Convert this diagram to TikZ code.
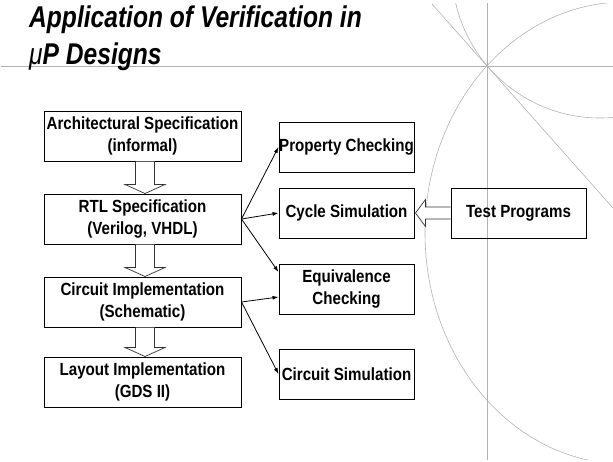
\documentclass[tikz,border=0pt]{standalone}
\usepackage{fontspec}
\setmainfont{Liberation Sans}
\newfontfamily\titlefont{Liberation Sans}[FakeStretch=0.82]
\newfontfamily\boxfont{Liberation Sans}[FakeStretch=0.86]
\usetikzlibrary{positioning,calc,arrows.meta}

% hollow block arrow pointing down from one box to the next
\newcommand{\hollowdown}[2]{%
  \draw[hollow] ([xshift=-7pt]#1.south) -- ([xshift=-7pt,yshift=9pt]#2.north)
    -- ([xshift=-17.5pt,yshift=9pt]#2.north) -- ([xshift=2.5pt]#2.north)
    -- ([xshift=22.5pt,yshift=9pt]#2.north) -- ([xshift=12pt,yshift=9pt]#2.north)
    -- ([xshift=12pt]#1.south);}

\begin{document}
\begin{tikzpicture}[x=1pt, y=-1pt,
    box/.style={draw, line width=1pt, align=center, inner sep=0pt, font=\boxfont\bfseries\fontsize{17.6}{21.7}\selectfont},
    mainbox/.style={box, minimum width=197pt, minimum height=50pt},
    checkbox/.style={box, minimum width=135pt, minimum height=50pt},
    conn/.style={-{Latex[length=6pt,width=4pt]}, line width=0.8pt},
    hollow/.style={draw=black!80, line width=0.7pt, fill=white},
    deco/.style={black!30, line width=0.6pt},
    titletext/.style={anchor=base west, inner sep=0pt, font=\titlefont\bfseries\itshape\fontsize{30}{36}\selectfont}]
    \useasboundingbox (0,0) rectangle (613,461);

    % background lines and arcs
    \begin{scope}
        \clip (1,3) rectangle (613,459);
        \draw[deco] (0,66) -- (613,66);
        \draw[deco] (487,0) -- (487,461);
        \draw[deco] (432,4) -- ($(432,4)!3.4!(487,66)$);
        \draw[deco] (600,-30) circle[radius=148];
        \draw[deco] (625,233) ellipse[x radius=200, y radius=231];
    \end{scope}

    % title
    \node[titletext] (title1) at (29,27) {Application of Verification in};
    \node[titletext] (title2) at (29,64) {{\mdseries μ}P Designs};

    % design flow
    \node[mainbox] (arch) at (142.5,136) {Architectural Specification\\(informal)};
    \node[mainbox, below=32pt of arch] (rtl) {RTL Specification\\(Verilog, VHDL)};
    \node[mainbox, below=32pt of rtl] (circ) {Circuit Implementation\\(Schematic)};
    \node[mainbox, below=29pt of circ] (layout) {Layout Implementation\\(GDS II)};

    % verification methods
    \node[checkbox] (prop) at (346.5,147) {Property Checking};
    \node[checkbox, below=15pt of prop] (cyc) {Cycle Simulation};
    \node[checkbox, below=25pt of cyc] (equiv) {Equivalence\\Checking};
    \node[checkbox, below=34pt of equiv] (csim) {Circuit Simulation};
    \node[checkbox, right=36pt of cyc] (test) {Test Programs};

    \hollowdown{arch}{rtl}
    \hollowdown{rtl}{circ}
    \hollowdown{circ}{layout}

    \draw[conn] (rtl.east) -- (prop.west);
    \draw[conn] (rtl.east) -- (cyc.west);
    \draw[conn] (rtl.east) -- ([yshift=17pt]equiv.west);
    \draw[conn] (circ.east) -- ([yshift=-8pt]equiv.west);
    \draw[conn] (circ.east) -- (csim.west);

    % test programs feed the cycle simulation
    \coordinate (tp) at (test.west |- cyc.east);
    \draw[hollow] ([yshift=6pt]tp) -- ([xshift=11pt,yshift=6pt]cyc.east)
        -- ([xshift=11pt,yshift=13.5pt]cyc.east) -- ([xshift=1pt]cyc.east)
        -- ([xshift=11pt,yshift=-13.5pt]cyc.east) -- ([xshift=11pt,yshift=-6pt]cyc.east)
        -- ([yshift=-6pt]tp);
\end{tikzpicture}
\end{document}
